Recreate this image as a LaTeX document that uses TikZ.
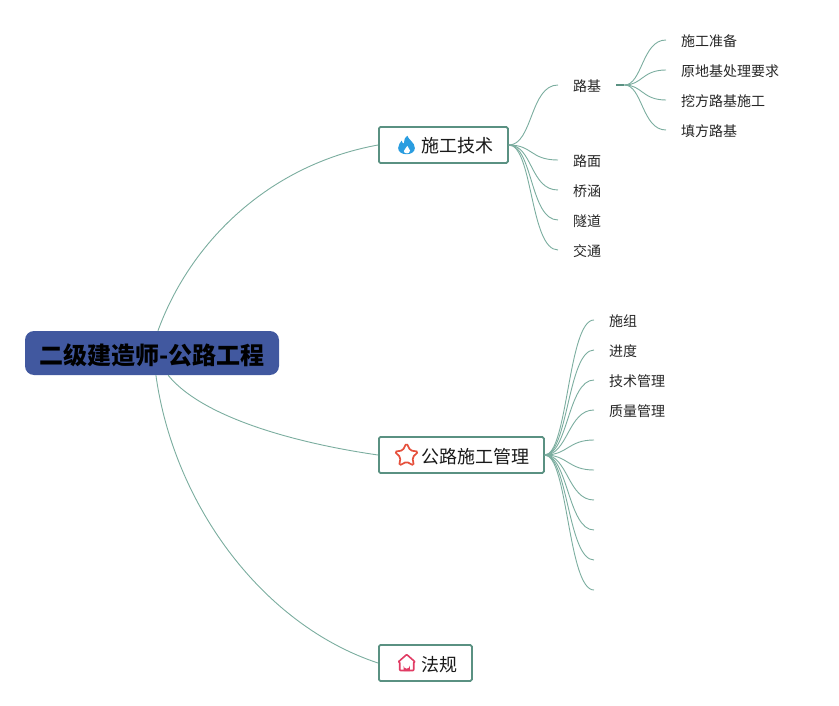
\documentclass[tikz,border=0pt]{standalone}
\usepackage{fontspec}
\setmainfont{Noto Sans CJK SC}
\usetikzlibrary{shapes.geometric,calc}
\definecolor{linkc}{HTML}{7BAD9F}
\definecolor{boxc}{HTML}{5A9182}
\definecolor{rootc}{HTML}{41589F}
\definecolor{flamec}{HTML}{2A9DE0}
\definecolor{starc}{HTML}{E6503C}
\definecolor{housec}{HTML}{E13C64}
\tikzset{
  rootbox/.style={rectangle,rounded corners=9pt,fill=rootc,minimum width=254pt,minimum height=44pt,inner sep=0pt,font=\fontsize{24}{24}\selectfont\bfseries,text=black,text height=25pt,text depth=2.5pt},
  mainbox/.style={rectangle,rounded corners=1.5pt,draw=boxc,line width=1.8pt,fill=white,minimum height=36pt,inner sep=0pt,anchor=west,font=\fontsize{18}{18}\selectfont,text=black!90,text height=18pt,text depth=2pt},
  leaf/.style={rectangle,anchor=west,inner xsep=15pt,inner ysep=0pt,font=\fontsize{14}{14}\selectfont,text=black!85,text height=15pt,text depth=2pt},
  blank/.style={rectangle,anchor=west,inner sep=0pt,minimum size=0pt},
  link/.style={draw=linkc,line width=0.9pt},
  stub/.style={draw=boxc,line width=1.8pt},
}
\begin{document}
\begin{tikzpicture}[x=1pt,y=-1pt]
\useasboundingbox (0,0) rectangle (839,706);
% main nodes
\node[rootbox] (root) at (152,353) {二级建造师-公路工程};
\node[mainbox,minimum width=129pt,text width=129pt] (tech) at (378,145) {\hspace*{43pt}施工技术};
\node[mainbox,minimum width=165pt,text width=165pt] (mgmt) at (378,455) {\hspace*{43pt}公路施工管理};
\node[mainbox,minimum width=93pt,text width=93pt] (law) at (378,663) {\hspace*{43pt}法规};
% leaves of tech
\node[leaf] (luji) at (558,85) {路基};
\node[leaf] (lumian) at (558,160) {路面};
\node[leaf] (qiaohan) at (558,190) {桥涵};
\node[leaf] (suidao) at (558,220) {隧道};
\node[leaf] (jiaotong) at (558,250) {交通};
\node[leaf] (a1) at (666,40) {施工准备};
\node[leaf] (a2) at (666,70) {原地基处理要求};
\node[leaf] (a3) at (666,100) {挖方路基施工};
\node[leaf] (a4) at (666,130) {填方路基};
% leaves of mgmt
\node[leaf] (b1) at (594,320) {施组};
\node[leaf] (b2) at (594,350) {进度};
\node[leaf] (b3) at (594,380) {技术管理};
\node[leaf] (b4) at (594,410) {质量管理};
\node[blank] (b5) at (594,440) {};
\node[blank] (b6) at (594,470) {};
\node[blank] (b7) at (594,500) {};
\node[blank] (b8) at (594,530) {};
\node[blank] (b9) at (594,560) {};
\node[blank] (b10) at (594,590) {};
% root links
\draw[link] (root.75) .. controls +(32,-88) and +(-110,20) .. (tech.west);
\draw[link] (root.-54) .. controls +(32,40) and +(-90,-13) .. (mgmt.west);
\draw[link] (root.-80) .. controls +(18,130) and +(-115,-38) .. (law.west);
% tech links
\foreach \t in {luji,lumian,qiaohan,suidao,jiaotong}
  \draw[link] (tech.east) .. controls +(24,0) and ($(\t.west)+(-28,0)$) .. (\t.west);
% luji links
\draw[stub] (luji.east) -- +(8,0) coordinate (lujiS);
\foreach \t in {a1,a2,a3,a4}
  \draw[link] (lujiS) .. controls +(18,0) and ($(\t.west)+(-24,0)$) .. (\t.west);
% mgmt links
\foreach \t in {b1,b2,b3,b4,b5,b6,b7,b8,b9,b10}
  \draw[link] (mgmt.east) .. controls +(23,0) and ($(\t.west)+(-26,0)$) .. (\t.west);
% flame icon
\begin{scope}[shift={(406.5,145)},scale=0.88]
\fill[flamec] (1,-10.5) .. controls (2,-6) and (9.5,-3) .. (9.5,3.5) .. controls (9.5,8) and (5,10.5) .. (0,10.5) .. controls (-5,10.5) and (-9.5,8) .. (-9.5,3.5) .. controls (-9.5,0) and (-7,-3) .. (-5.5,-5) .. controls (-5,-3) and (-4.5,-2) .. (-3,-1.5) .. controls (-3.5,-5) and (-1.5,-9) .. (1,-10.5) -- cycle;
\fill[white] (1,1) .. controls (1.5,3.5) and (4,4.5) .. (4,6.5) .. controls (4,8.5) and (2,9.5) .. (0.5,9.5) .. controls (-1.5,9.5) and (-3,8.5) .. (-3,7) .. controls (-3,5) and (0,3.5) .. (1,1) -- cycle;
\end{scope}
% star icon
\node[star,star points=5,star point ratio=2,draw=starc,line width=1.7pt,rounded corners=1.8pt,minimum size=25pt,inner sep=0pt] (staricon) at (406.5,455.5) {};
% house icon
\begin{scope}[shift={(406.7,662.5)}]
\draw[housec,line width=1.6pt,line join=round,rounded corners=0.8pt] (-8.5,-0.5) -- (0,-8) -- (8.5,-0.5) -- (7,-0.5) -- (7,8) -- (-7,8) -- (-7,-0.5) -- cycle;
\fill[housec] (-3.2,8.5) -- (-3.2,3) arc[start angle=180,end angle=0,radius=3.2] -- (3.2,8.5) -- cycle;
\end{scope}
\end{tikzpicture}
\end{document}
